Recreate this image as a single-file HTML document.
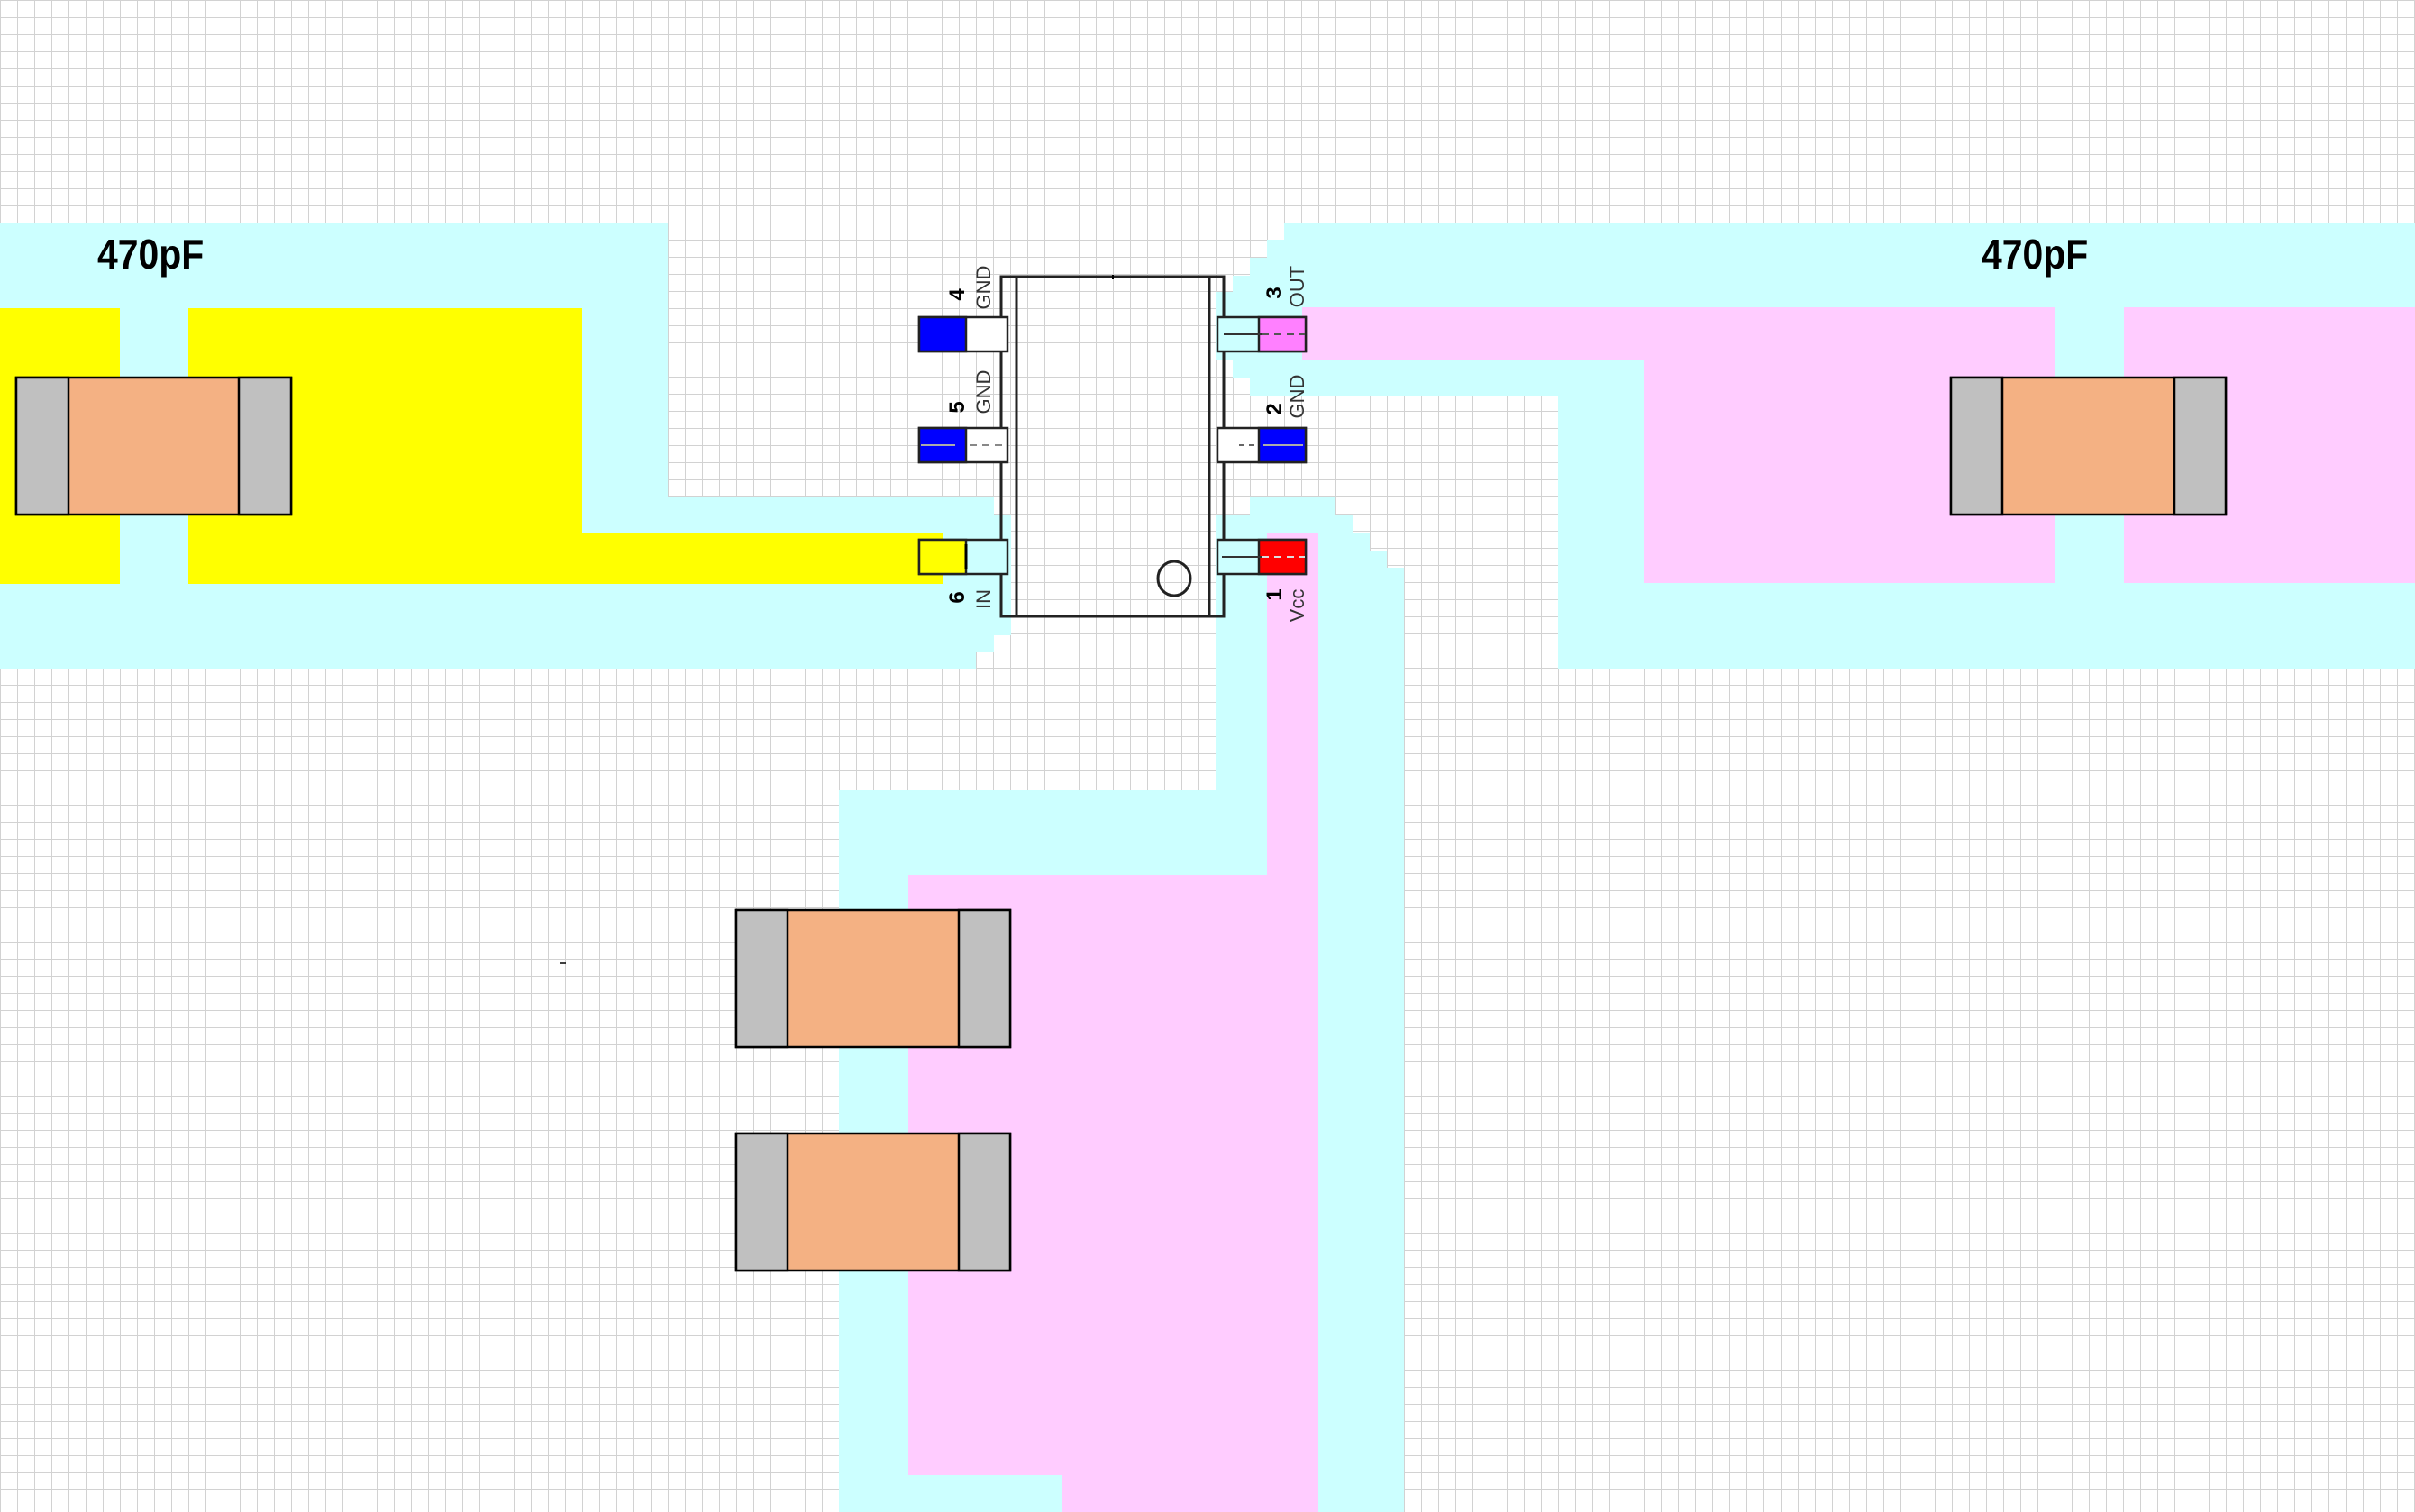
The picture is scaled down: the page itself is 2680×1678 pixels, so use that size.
<!DOCTYPE html>
<html><head><meta charset="utf-8"><style>
html,body{margin:0;padding:0}
body{width:2680px;height:1678px;overflow:hidden;background-color:#fff;
background-image:linear-gradient(to right,transparent 18px,#d2d2d2 18px),linear-gradient(to bottom,transparent 18px,#d2d2d2 18px);
background-size:19px 19px;background-position:1px 1px;}
svg{position:absolute;left:0;top:0}
</style></head><body>
<svg width="2680" height="1678" viewBox="0 0 2680 1678" xmlns="http://www.w3.org/2000/svg">
<g fill="#ccffff">
<rect x="0" y="247" width="741" height="496"/>
<rect x="741" y="552" width="342" height="191"/>
<rect x="1083" y="552" width="20" height="172"/>
<rect x="1103" y="572" width="19" height="133"/>
<rect x="1425" y="247" width="1255" height="19"/>
<rect x="1406" y="266" width="1274" height="20"/>
<rect x="1387" y="286" width="1293" height="20"/>
<rect x="1368" y="306" width="1312" height="18"/>
<rect x="1349" y="324" width="1331" height="75"/>
<rect x="1368" y="399" width="1312" height="21"/>
<rect x="1387" y="420" width="1293" height="19"/>
<rect x="1729" y="439" width="951" height="304"/>
<rect x="1387" y="552" width="95" height="20"/>
<rect x="1349" y="572" width="152" height="19"/>
<rect x="1349" y="591" width="171" height="20"/>
<rect x="1349" y="611" width="190" height="19"/>
<rect x="1349" y="630" width="209" height="1048"/>
<rect x="931" y="877" width="475" height="801"/>
</g>
<g fill="#ffff00">
<rect x="0" y="342" width="133" height="306"/>
<rect x="209" y="342" width="437" height="306"/>
<rect x="646" y="591" width="400" height="57"/>
</g>
<g fill="#ffccff">
<rect x="1445" y="341" width="379" height="58"/>
<rect x="1824" y="341" width="856" height="306"/>
<rect x="1406" y="591" width="57" height="1087"/>
<rect x="1008" y="971" width="455" height="666"/>
<rect x="1178" y="971" width="285" height="707"/>
</g>
<rect x="2280" y="341" width="77" height="306" fill="#ccffff"/>

<g stroke="#000" stroke-width="2.5">
<rect x="18" y="419" width="305" height="152" fill="#f4b183"/>
<rect x="18" y="419" width="58" height="152" fill="#c0c0c0"/>
<rect x="265" y="419" width="58" height="152" fill="#c0c0c0"/>
<rect x="2165" y="419" width="305" height="152" fill="#f4b183"/>
<rect x="2165" y="419" width="57" height="152" fill="#c0c0c0"/>
<rect x="2413" y="419" width="57" height="152" fill="#c0c0c0"/>
<rect x="817" y="1010" width="304" height="152" fill="#f4b183"/>
<rect x="817" y="1010" width="57" height="152" fill="#c0c0c0"/>
<rect x="1064" y="1010" width="57" height="152" fill="#c0c0c0"/>
<rect x="817" y="1258" width="304" height="152" fill="#f4b183"/>
<rect x="817" y="1258" width="57" height="152" fill="#c0c0c0"/>
<rect x="1064" y="1258" width="57" height="152" fill="#c0c0c0"/>
</g>

<g stroke="#222" stroke-width="3" fill="none">
<rect x="1111" y="307" width="247" height="377"/>
<line x1="1128" y1="307" x2="1128" y2="684"/>
<line x1="1342" y1="307" x2="1342" y2="684"/>
<ellipse cx="1303" cy="642" rx="18" ry="19"/>
</g>
<line x1="1235" y1="305" x2="1235" y2="310" stroke="#000" stroke-width="2"/>

<g stroke="#222" stroke-width="2.5">
<rect x="1020" y="352" width="98" height="38" fill="#fff"/>
<rect x="1020" y="352" width="52" height="38" fill="#0000ff"/>
<rect x="1020" y="475" width="98" height="38" fill="#fff"/>
<rect x="1020" y="475" width="52" height="38" fill="#0000ff"/>
<rect x="1020" y="599" width="98" height="38" fill="#ccffff"/>
<rect x="1020" y="599" width="52" height="38" fill="#ffff00"/>
<rect x="1351" y="352" width="98" height="38" fill="#ccffff"/>
<rect x="1397" y="352" width="52" height="38" fill="#ff80ff"/>
<rect x="1351" y="475" width="98" height="38" fill="#fff"/>
<rect x="1397" y="475" width="52" height="38" fill="#0000ff"/>
<rect x="1351" y="599" width="98" height="38" fill="#ccffff"/>
<rect x="1397" y="599" width="52" height="38" fill="#ff0000"/>
</g>
<g stroke-width="2">
<line x1="1022" y1="494" x2="1060" y2="494" stroke="#aaa"/>
<line x1="1076" y1="494" x2="1116" y2="494" stroke="#888" stroke-dasharray="8,6"/>
<line x1="1072" y1="604" x2="1072" y2="632" stroke="#000" stroke-width="3"/>
<line x1="1358" y1="371" x2="1400" y2="371" stroke="#333"/>
<line x1="1400" y1="371" x2="1448" y2="371" stroke="#555" stroke-dasharray="8,6"/>
<line x1="1375" y1="494" x2="1397" y2="494" stroke="#666" stroke-dasharray="6,5"/>
<line x1="1402" y1="494" x2="1446" y2="494" stroke="#aaa"/>
<line x1="1356" y1="618" x2="1400" y2="618" stroke="#333"/>
<line x1="1400" y1="618" x2="1448" y2="618" stroke="#ddd" stroke-dasharray="8,6"/>
</g>

<g font-family="Liberation Sans, sans-serif" text-anchor="middle">
<g font-weight="bold" font-size="24" fill="#000">
<text transform="translate(1070,327) rotate(-90)">4</text>
<text transform="translate(1070,452) rotate(-90)">5</text>
<text transform="translate(1070,663) rotate(-90)">6</text>
<text transform="translate(1422,325) rotate(-90)">3</text>
<text transform="translate(1422,454) rotate(-90)">2</text>
<text transform="translate(1422,660) rotate(-90)">1</text>
</g>
<g font-size="22" fill="#333">
<text transform="translate(1099,319) rotate(-90)">GND</text>
<text transform="translate(1099,435) rotate(-90)">GND</text>
<text transform="translate(1099,665) rotate(-90)">IN</text>
<text transform="translate(1447,318) rotate(-90)">OUT</text>
<text transform="translate(1447,440) rotate(-90)">GND</text>
<text transform="translate(1447,672) rotate(-90)">Vcc</text>
</g>
</g>
<g font-family="Liberation Sans, sans-serif" font-size="62" font-weight="bold" fill="#000">
<text transform="translate(108,298) scale(0.66,0.75)">470pF</text>
<text transform="translate(2199,298) scale(0.66,0.75)">470pF</text>
</g>
<line x1="621" y1="1069" x2="628" y2="1069" stroke="#000" stroke-width="1.5"/>
</svg>
</body></html>
